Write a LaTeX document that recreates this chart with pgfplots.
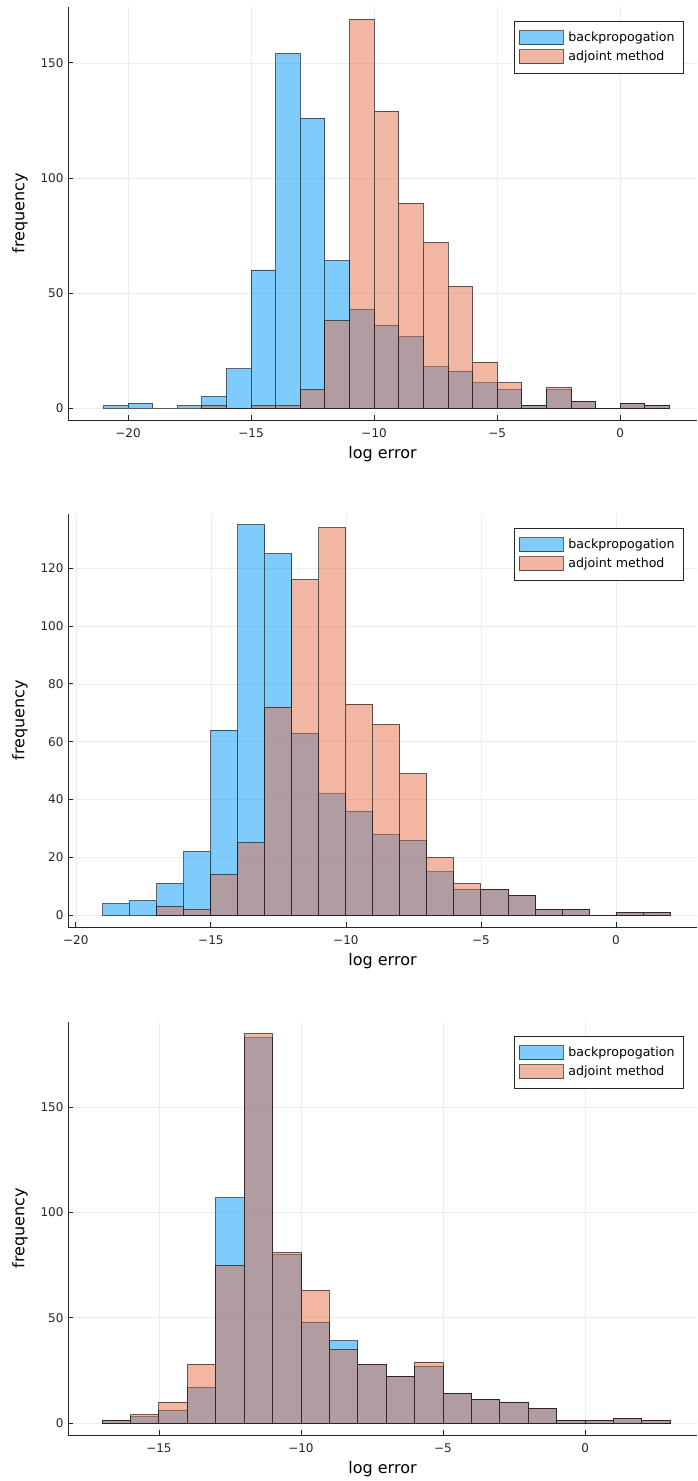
\documentclass[border=0pt]{standalone}
\usepackage{fontspec}
\setmainfont{DejaVu Sans}
\usepackage{pgfplots}
\pgfplotsset{compat=1.18}
\definecolor{bpblue}{RGB}{0,154,250}
\definecolor{adjor}{RGB}{227,111,71}
\pgfplotsset{
 histax/.style={
  width=629pt, height=413pt, scale only axis,
  axis x line*=bottom, axis y line*=left,
  axis line style={line width=0.9pt, black!85, -},
  tick align=inside, major tick length=5pt, tick style={black!85, line width=0.8pt},
  grid=major, major grid style={line width=0.6pt, black!7},
  /pgf/number format/assume math mode=true,
  ticklabel style={font=\fontsize{12}{14}\selectfont, text=black!85},
  label style={font=\fontsize{16}{19}\selectfont},
  xticklabel shift=5pt, yticklabel shift=1pt,
  xlabel shift=2pt, ylabel shift=6pt,
  xlabel={log error}, ylabel={frequency},
  legend style={at={(0.9793,0.966)}, anchor=north east, draw=black!85, line width=0.8pt,
    font=\fontsize{12.6}{14}\selectfont, inner xsep=4pt, inner ysep=9pt, row sep=4pt,
    nodes={inner xsep=5pt, inner ysep=1pt}, cells={anchor=west}},
  legend image code/.code={\draw[#1, line width=0.9pt] (0pt,-7pt) rectangle (44pt,7pt);},
 },
 bp/.style={ybar interval, fill=bpblue, fill opacity=0.5, draw=black, draw opacity=0.6, line width=0.9pt},
 ad/.style={ybar interval, fill=adjor, fill opacity=0.5, draw=black, draw opacity=0.6, line width=0.9pt},
}
\begin{document}
\begin{tikzpicture}
\useasboundingbox (0pt,0pt) rectangle (697pt,1481pt);
% Panel 1
\begin{axis}[histax, at={(68pt,1061pt)}, anchor=south west,
  xmin=-22.44, xmax=3.12, ymin=-5.2, ymax=174.3,
  xtick={-20,-15,-10,-5,0}, xticklabels={−20,−15,−10,−5,0}, ytick={0,50,100,150}]
\addplot[bp] coordinates {(-21,1) (-20,2) (-19,0) (-18,1) (-17,5) (-16,17) (-15,60) (-14,154) (-13,126) (-12,64) (-11,43) (-10,36) (-9,31) (-8,18) (-7,16) (-6,11) (-5,8) (-4,1) (-3,8) (-2,3) (-1,0) (0,2) (1,1) (2,1)};
\addlegendentry{backpropogation\hspace{6pt}}
\addplot[ad] coordinates {(-17,1) (-16,0) (-15,1) (-14,1) (-13,8) (-12,38) (-11,169) (-10,129) (-9,89) (-8,72) (-7,53) (-6,20) (-5,11) (-4,1) (-3,9) (-2,3) (-1,0) (0,2) (1,1) (2,1)};
\addlegendentry{adjoint method}
\end{axis}
% Panel 2
\begin{axis}[histax, at={(68pt,554pt)}, anchor=south west,
  xmin=-20.29, xmax=3.0, ymin=-4.05, ymax=138.7,
  xtick={-20,-15,-10,-5,0}, xticklabels={−20,−15,−10,−5,0}, ytick={0,20,40,60,80,100,120}]
\addplot[bp] coordinates {(-19,4) (-18,5) (-17,11) (-16,22) (-15,64) (-14,135) (-13,125) (-12,63) (-11,42) (-10,36) (-9,28) (-8,26) (-7,15) (-6,9) (-5,9) (-4,7) (-3,2) (-2,2) (-1,0) (0,1) (1,1) (2,1)};
\addlegendentry{backpropogation\hspace{6pt}}
\addplot[ad] coordinates {(-17,3) (-16,2) (-15,14) (-14,25) (-13,72) (-12,116) (-11,134) (-10,73) (-9,66) (-8,49) (-7,20) (-6,11) (-5,9) (-4,7) (-3,2) (-2,2) (-1,0) (0,1) (1,1) (2,1)};
\addlegendentry{adjoint method}
\end{axis}
% Panel 3
\begin{axis}[histax, at={(68pt,46pt)}, anchor=south west,
  xmin=-18.2, xmax=3.94, ymin=-5.7, ymax=190.5,
  xtick={-15,-10,-5,0}, xticklabels={−15,−10,−5,0}, ytick={0,50,100,150}]
\addplot[bp] coordinates {(-17,1) (-16,3) (-15,6) (-14,17) (-13,107) (-12,183) (-11,80) (-10,48) (-9,39) (-8,28) (-7,22) (-6,27) (-5,14) (-4,11) (-3,10) (-2,7) (-1,1) (0,1) (1,2) (2,1) (3,1)};
\addlegendentry{backpropogation\hspace{6pt}}
\addplot[ad] coordinates {(-17,1) (-16,4) (-15,10) (-14,28) (-13,75) (-12,185) (-11,81) (-10,63) (-9,35) (-8,28) (-7,22) (-6,29) (-5,14) (-4,11) (-3,10) (-2,7) (-1,1) (0,1) (1,2) (2,1) (3,1)};
\addlegendentry{adjoint method}
\end{axis}
\end{tikzpicture}
\end{document}
